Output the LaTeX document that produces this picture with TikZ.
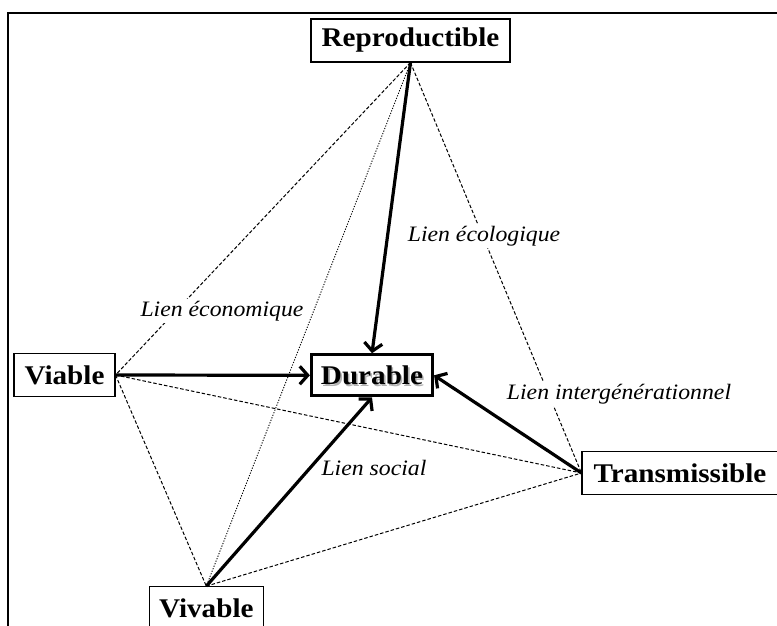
\documentclass[tikz,border=0pt]{standalone}
\usepackage{fontspec}
\setmainfont[FakeStretch=1.08]{Liberation Serif}
\usetikzlibrary{arrows.meta}
\begin{document}
\begin{tikzpicture}[x=1pt,y=-1pt,
  box/.style={draw,line width=1.1pt,font=\fontsize{27}{29}\selectfont\bfseries,inner sep=0pt,minimum height=43pt},
  lbl/.style={fill=white,inner xsep=1pt,inner ysep=2pt,font=\fontsize{22}{24}\selectfont\itshape},
  thindash/.style={line width=1pt,dash pattern=on 3.5pt off 2pt},
  thindot/.style={line width=0.9pt,dash pattern=on 1.2pt off 1.5pt},
  link/.style={line width=3.2pt,-{Straight Barb[length=8pt,width=18pt]}},
  shadowtext/.style={text=black!30,font=\fontsize{27}{29}\selectfont\bfseries,inner sep=0pt}
]
\useasboundingbox (0,0) rectangle (777,625);
% frame
\draw[line width=2pt] (8,640) -- (8,12.7) -- (800,12.7);
% nodes
\node[box,minimum width=199pt] (rep) at (410.5,40.5) {Reproductible};
\node[box,minimum width=101pt] (via) at (64.5,375) {Viable};
\node[box,minimum width=114pt] (viv) at (206.3,608.2) {Vivable};
\node[box,minimum width=196pt] (tra) at (680,473) {Transmissible};
\node[shadowtext] (shd) at (373.6,377.6) {Durable};
\node[box,line width=3.2pt,minimum width=121pt,minimum height=41pt] (dur) at (372,375.3) {Durable};
% thin links
\draw[thindash] (rep.south) -- (via.east);
\draw[thindot] (rep.south) -- (viv.north);
\draw[thindash] (rep.south) -- (tra.west);
\draw[thindash] (via.east) -- (viv.north);
\draw[thindash] (via.east) -- (tra.west);
\draw[thindash] (viv.north) -- (tra.west);
% thick arrows
\draw[link] (rep.south) -- (dur.north);
\draw[link] (via.east) -- (dur.west);
\draw[link] (viv.north) -- (dur.south);
\draw[link] (tra.west) -- (dur.east);
% labels
\node[lbl] (leco) at (222,311) {Lien économique};
\node[lbl] (lecol) at (484,236) {Lien écologique};
\node[lbl] (lint) at (619,394) {Lien intergénérationnel};
\node[lbl] (lsoc) at (374,468) {Lien social};
\end{tikzpicture}
\end{document}
